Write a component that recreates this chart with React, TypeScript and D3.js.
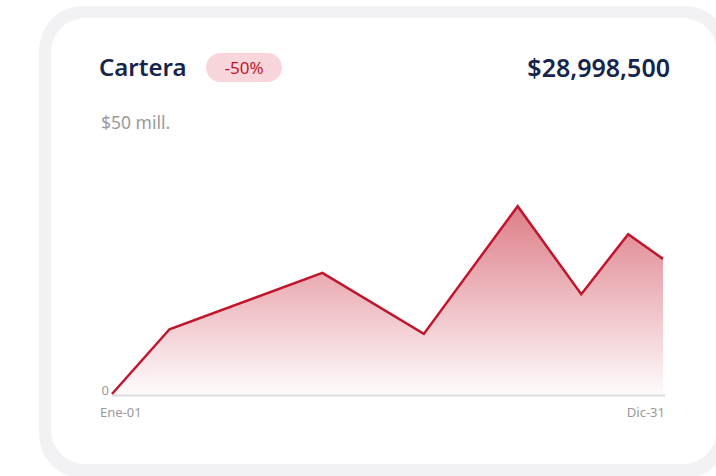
import React from "react";
import * as d3 from "d3";

const days: number[] = [0, 38, 139, 206, 268, 310, 341, 364];
const values: number[] = [0, 13.9, 26.0, 12.9, 40.3, 21.4, 34.3, 29.0];
const yDomain: [number, number] = [0, 50];
const xLabels: string[] = ["Ene-01", "Dic-31"];
const title = "Cartera";
const badge = "-50%";
const total = "$28,998,500";
const maxLabel = "$50 mill.";
const zeroLabel = "0";

const FONT = "'Noto Sans', sans-serif";

export default function App() {
  const W = 716, H = 476;
  const x = d3.scaleLinear().domain([0, 364]).range([112, 663]);
  const y = d3.scaleLinear().domain(yDomain).range([394, 161]);
  const pts = days.map((d, i) => [d, values[i]] as [number, number]);
  const line = d3.line<[number, number]>().x(d => x(d[0])).y(d => y(d[1]));
  const area = d3.area<[number, number]>().x(d => x(d[0])).y0(y(0)).y1(d => y(d[1]));
  return (
    <svg width={W} height={H} style={{ position: "absolute", left: 0, top: 0, display: "block" }}>
      <defs>
        <linearGradient id="g" x1="0" y1={y(d3.max(values)!)} x2="0" y2={y(0)} gradientUnits="userSpaceOnUse">
          <stop offset="0" stopColor="#c8283a" stopOpacity={0.6} />
          <stop offset="1" stopColor="#c8283a" stopOpacity={0.02} />
        </linearGradient>
      </defs>
      <rect x={39} y={6} width={690} height={472} rx={44} fill="#f2f2f4" />
      <rect x={51} y={18} width={666} height={446} rx={34} fill="#ffffff" />
      <text x={99} y={76} fontFamily={FONT} fontSize={24} fontWeight={600} fill="#15254b">{title}</text>
      <rect x={206} y={53} width={76} height={29} rx={14.5} fill="#f8d6db" />
      <text x={244} y={74} textAnchor="middle" fontFamily={FONT} fontSize={17} fill="#c0162c">{badge}</text>
      <text x={670} y={77} textAnchor="end" fontFamily={FONT} fontSize={25} fontWeight={600} fill="#15254b">{total}</text>
      <text x={101} y={129} fontFamily={FONT} fontSize={17.5} fill="#9a9a9a">{maxLabel}</text>
      <path d={area(pts)!} fill="url(#g)" />
      <line x1={x(0)} x2={x(364) + 2} y1={y(0) + 1.5} y2={y(0) + 1.5} stroke="#dcdcdf" strokeWidth={2} />
      <path d={line(pts)!} fill="none" stroke="#c0162c" strokeWidth={2.5} strokeLinejoin="miter" />
      <text x={109} y={395} textAnchor="end" fontFamily={FONT} fontSize={13} fill="#999">{zeroLabel}</text>
      <text x={100} y={417} fontFamily={FONT} fontSize={13} fill="#999">{xLabels[0]}</text>
      <text x={665} y={417} textAnchor="end" fontFamily={FONT} fontSize={13} fill="#999">{xLabels[1]}</text>
    </svg>
  );
}
